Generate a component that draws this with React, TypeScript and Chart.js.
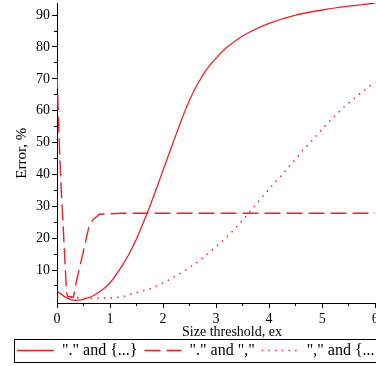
import React, { useEffect, useRef } from "react";
import { Chart, registerables } from "chart.js";

Chart.register(...registerables);

// ---- data ----
const solidX = [0, 0.1, 0.2, 0.34, 0.5, 0.7, 0.88, 1.0, 1.2, 1.4, 1.5, 1.7, 1.95, 2.13, 2.3, 2.4, 2.5, 2.6, 2.7, 2.8, 2.9, 3.0, 3.2, 3.45, 3.6, 4.0, 4.5, 5.0, 5.5, 6.0];
const solidY = [3.4, 2.2, 1.1, 0.5, 0.8, 2.1, 4.1, 6.0, 10.6, 16.3, 19.8, 27.8, 39.0, 47.3, 55.0, 59.4, 63.3, 66.8, 69.8, 72.4, 74.6, 76.5, 79.8, 82.9, 84.4, 87.4, 90, 91.6, 92.8, 93.8];

const dashX = [0, 0.02, 0.05, 0.08, 0.1, 0.14, 0.18, 0.2, 0.31, 0.37, 0.5, 0.6, 0.68, 0.8, 1.2, 6];
const dashY = [72, 61, 47, 35, 29, 16, 3, 1.7, 1.5, 6.8, 16, 23.5, 25.8, 27.5, 27.8, 27.8];

const dotX = [0, 0.3, 0.6, 0.9, 1.19, 1.47, 1.75, 2.02, 2.26, 2.51, 2.75, 2.97, 3.19, 3.39, 3.68, 3.87, 4.05, 4.25, 4.44, 4.63, 4.83, 5.02, 5.22, 5.43, 5.66, 5.88, 6];
const dotY = [1.8, 1.4, 1.1, 1.2, 1.5, 2.8, 4.1, 6.1, 8.3, 10.9, 13.8, 16.9, 20.2, 23.6, 29.1, 32.9, 36.4, 40, 43.7, 47.4, 51, 54.6, 58, 61.4, 64.6, 67.5, 68.9];

const seriesLabels = ['"." and {...}', '"." and ","', '"," and {...}'];
const xTicks = [0, 0.5, 1, 1.5, 2, 2.5, 3, 3.5, 4, 4.5, 5, 5.5, 6];
const yTicks = [5, 10, 15, 20, 25, 30, 35, 40, 45, 50, 55, 60, 65, 70, 75, 80, 85, 90];
const xTitle = "Size threshold, ex";
const yTitle = "Error, %";

const RED = "rgb(240,30,40)";
const FONT = "'Liberation Serif', 'Times New Roman', serif";

const zip = (xs: number[], ys: number[]) => xs.map((x, i) => ({ x, y: ys[i] }));

const legendFrame = {
  id: "legendFrame",
  afterDraw(chart: any) {
    const lg = chart.legend;
    if (!lg) return;
    const pad = lg.options.labels.padding;
    const fs = lg.options.labels.font.size;
    const cy = lg.top + pad + fs / 2;
    const ctx = chart.ctx;
    ctx.save();
    ctx.strokeStyle = "#000";
    ctx.lineWidth = 1;
    ctx.setLineDash([]);
    ctx.strokeRect(14.5, Math.round(cy - 11.5) + 0.5, chart.width, 23);
    ctx.restore();
  },
};

export default function App() {
  const ref = useRef<HTMLCanvasElement | null>(null);

  useEffect(() => {
    if (!ref.current) return;
    const chart = new Chart(ref.current, {
      type: "line",
      data: {
        datasets: [
          {
            label: seriesLabels[0],
            data: zip(solidX, solidY),
            borderColor: RED,
            backgroundColor: RED,
            borderWidth: 1.3,
            pointRadius: 0,
            cubicInterpolationMode: "monotone",
            fill: false,
          },
          {
            label: seriesLabels[1],
            data: zip(dashX, dashY),
            borderColor: RED,
            backgroundColor: RED,
            borderWidth: 1.4,
            borderDash: [16, 6],
            pointRadius: 0,
            tension: 0,
            fill: false,
          },
          {
            label: seriesLabels[2],
            data: zip(dotX, dotY),
            borderColor: RED,
            backgroundColor: RED,
            borderWidth: 1.5,
            borderDash: [1.5, 5.2],
            pointRadius: 0,
            cubicInterpolationMode: "monotone",
            fill: false,
          },
        ],
      },
      options: {
        animation: false,
        responsive: false,
        events: [],
        layout: { padding: { left: 10, right: 13, top: 3, bottom: -2.5 } },
        font: { family: FONT },
        color: "#000",
        scales: {
          x: {
            type: "linear",
            min: 0,
            max: 6.6,
            afterBuildTicks: (s: any) => {
              s.ticks = xTicks.map((value) => ({ value }));
            },
            afterFit: (s: any) => {
              s.height = 32;
              s.paddingLeft = 0;
              s.paddingRight = 0;
            },
            grid: {
              drawOnChartArea: false,
              drawTicks: true,
              tickLength: 5,
              tickColor: "#000",
              tickWidth: 1,
              tickBorderDash: (c: any) =>
                Number.isInteger(c.tick?.value) ? [4, 50] : [2, 50],
            },
            border: { display: true, color: "#000", width: 1 },
            ticks: {
              autoSkip: false,
              maxRotation: 0,
              padding: 2,
              color: "#000",
              font: { family: FONT, size: 14 },
              callback: (v: any) => (Number.isInteger(v) ? String(v) : ""),
            },
            title: {
              display: true,
              text: xTitle,
              color: "#000",
              font: { family: FONT, size: 14 },
              padding: { top: 0, bottom: -5 },
            },
          },
          y: {
            type: "linear",
            min: -0.5,
            max: 93.8,
            afterBuildTicks: (s: any) => {
              s.ticks = yTicks.map((value) => ({ value }));
            },
            afterFit: (s: any) => {
              s.width = 47;
              s.paddingTop = 0;
              s.paddingBottom = 0;
            },
            grid: {
              drawOnChartArea: false,
              drawTicks: true,
              tickLength: 5,
              tickColor: "#000",
              tickWidth: 1,
              tickBorderDash: (c: any) =>
                c.tick && c.tick.value % 10 === 0 ? [] : [0, 2, 3, 50],
            },
            border: { display: true, color: "#000", width: 1 },
            ticks: {
              autoSkip: false,
              padding: 2,
              color: "#000",
              font: { family: FONT, size: 14 },
              callback: (v: any) => (v % 10 === 0 ? String(v) : ""),
            },
            title: {
              display: true,
              text: yTitle,
              color: "#000",
              font: { family: FONT, size: 15 },
              padding: { top: 3, bottom: 4 },
            },
          },
        },
        plugins: {
          tooltip: { enabled: false },
          title: { display: false },
          legend: {
            display: true,
            position: "bottom",
            align: "start",
            labels: {
              color: "#000",
              font: { family: FONT, size: 16 },
              padding: 7,
              usePointStyle: true,
              pointStyle: "line",
              pointStyleWidth: 37,
              generateLabels: (ch: any) =>
                ch.data.datasets.map((ds: any, i: number) => ({
                  text: ds.label,
                  fillStyle: ds.borderColor,
                  strokeStyle: ds.borderColor,
                  lineWidth: ds.borderWidth,
                  lineDash: ds.borderDash || [],
                  lineCap: "butt",
                  pointStyle: "line",
                  hidden: false,
                  datasetIndex: i,
                  fontColor: "#000",
                })),
            },
          },
        },
      },
      plugins: [legendFrame],
    } as any);
    return () => chart.destroy();
  }, []);

  return (
    <div
      style={{
        position: "absolute",
        left: 0,
        top: 0,
        width: 376,
        height: 366,
        overflow: "hidden",
        background: "#fff",
      }}
    >
      <canvas ref={ref} width={420} height={366} style={{ display: "block" }} />
    </div>
  );
}
